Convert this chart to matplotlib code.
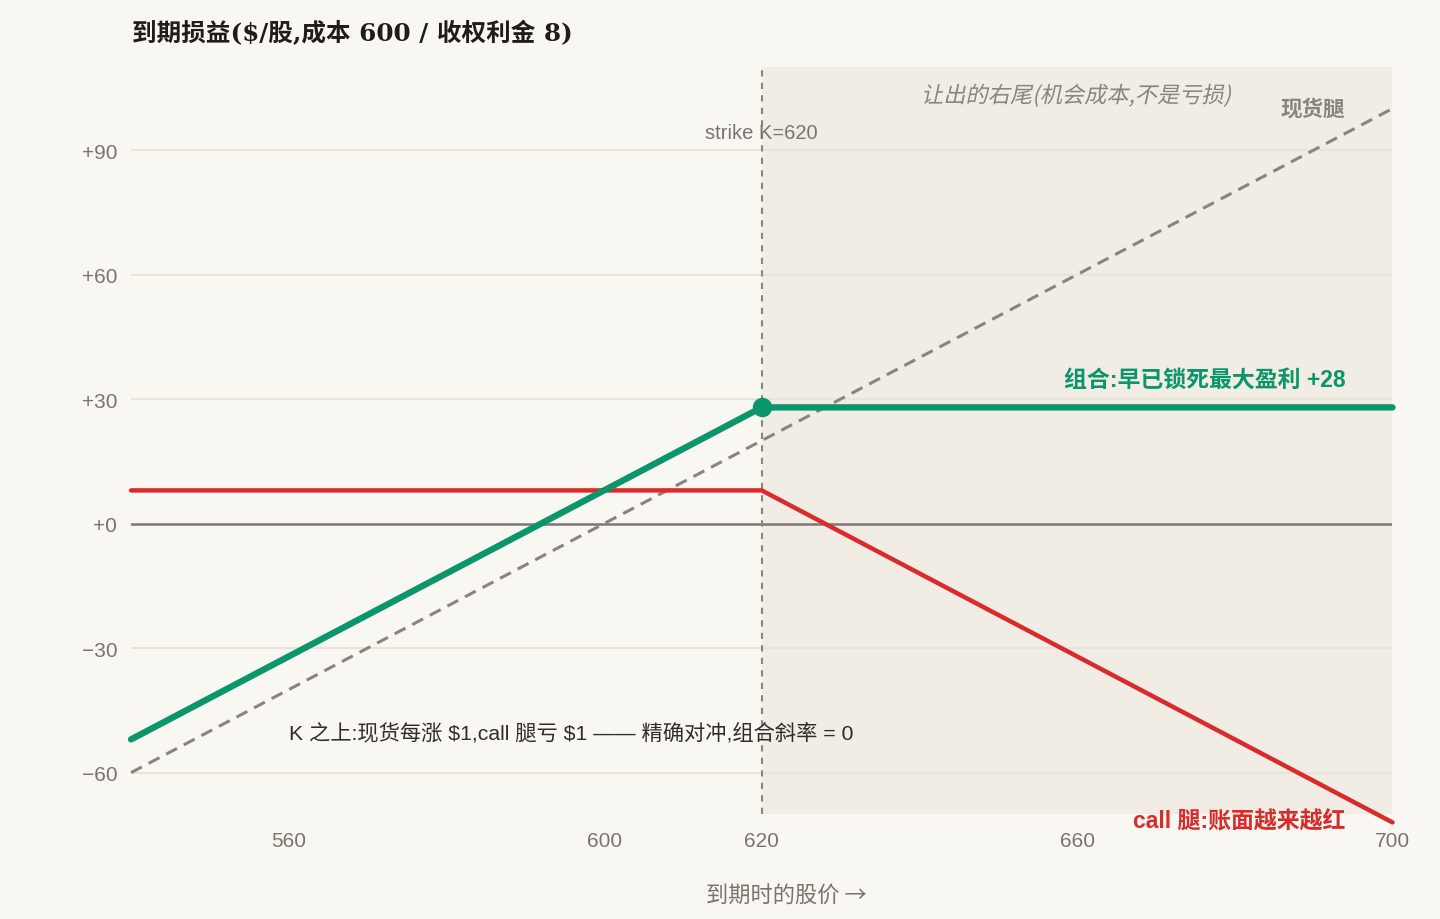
import matplotlib
matplotlib.use("Agg")
import matplotlib.pyplot as plt
from matplotlib.font_manager import FontProperties
from matplotlib.patches import PathPatch
from matplotlib.textpath import TextPath
from matplotlib.transforms import Affine2D, ScaledTranslation

# payoff at expiry, cost 600, strike 620, premium 8
prices = [540, 620, 700]
stock_pnl = [-60, 20, 100]
call_pnl = [8, 8, -72]
combo_pnl = [-52, 28, 28]
strike = 620
max_profit = 28

x_ticks = [560, 600, 620, 660, 700]
y_ticks = [-60, -30, 0, 30, 60, 90]
y_labels = ["\u221260", "\u221230", "+0", "+30", "+60", "+90"]

BG = "#f9f7f2"
SHADE = "#f1ece4"
GRID = "#e9e4d8"
GREEN = "#0a956a"
RED = "#da2a2a"
GRAY = "#8a847e"
TXT = "#7a746e"

MIX = ["Liberation Sans", "Noto Sans CJK SC", "DejaVu Sans"]
plt.rcParams["font.family"] = MIX

fig = plt.figure(figsize=(14.4, 9.2), dpi=100, facecolor=BG)
ax = fig.add_axes([0.091, 0.114, 0.876, 0.812])
ax.set_facecolor(BG)
ax.set_xlim(540, 700)
ax.set_ylim(-70, 110)

ax.axvspan(strike, 700, color=SHADE, zorder=0, lw=0)
for y in y_ticks:
    if y != 0:
        ax.axhline(y, color=GRID, lw=1.5, zorder=1)
ax.axhline(0, color="#7d7873", lw=1.8, zorder=2)
ax.axvline(strike, color=GRAY, lw=1.5, ls=(0, (3, 3)), zorder=2)

ax.plot(prices, stock_pnl, color=GRAY, lw=2.2, ls=(0, (4, 2.5)), zorder=3, clip_on=False)
ax.plot(prices, call_pnl, color=RED, lw=3.2, zorder=4, clip_on=False, solid_capstyle="round")
ax.plot(prices, combo_pnl, color=GREEN, lw=4.6, zorder=5, clip_on=False, solid_capstyle="round")
ax.plot([strike], [max_profit], "o", color=GREEN, ms=13, zorder=6)

ax.set_xticks(x_ticks)
ax.set_xticklabels([str(v) for v in x_ticks])
ax.set_yticks(y_ticks)
ax.set_yticklabels(y_labels)
ax.tick_params(length=0, labelsize=15, colors=TXT, pad=10)
ax.tick_params(axis="x", pad=12)
for s in ax.spines.values():
    s.set_visible(False)

fig.text(786 / 1440, 1 - 896 / 920, "到期时的股价 \u2192", ha="center", va="center",
         fontsize=16, color=TXT, family=["Noto Sans CJK SC", "DejaVu Sans"])

ax.text(620, 94.3, "strike K=620", ha="center", va="center", fontsize=14.5, color=TXT)

# CJK font has no italic face, so shear the glyph outlines by hand
tail = "让出的右尾(机会成本,不是亏损)"
tp = TextPath((0, 0), tail, size=16, prop=FontProperties(family="Noto Sans CJK SC"))
ext = tp.get_extents()
shift = Affine2D().translate(-(ext.x0 + ext.x1) / 2, -(ext.y0 + ext.y1) / 2)
tr = (shift + Affine2D().skew_deg(12, 0).scale(fig.dpi / 72)
      + ScaledTranslation(660, 103.2, ax.transData))
ax.add_patch(PathPatch(tp, transform=tr, color=GRAY, lw=0, zorder=3, clip_on=False))

ax.text(694, 99.9, "现货腿", ha="right", va="center", fontsize=15.5, color=GRAY,
        fontweight="bold")
ax.text(694, 34.9, "组合:早已锁死最大盈利 +28", ha="right", va="center", fontsize=16.5,
        color=GREEN, fontweight="bold")
ax.text(560, -50.3, "K 之上:现货每涨 \\$1,call 腿亏 \\$1 —— 精确对冲,组合斜率 = 0",
        ha="left", va="center", fontsize=15.3, color="#2f2c29")
ax.text(694, -71.7, "call 腿:账面越来越红", ha="right", va="center", fontsize=16.5,
        color=RED, fontweight="bold")

fig.text(0.092, 0.963, "到期损益(\\$/股,成本 600 / 收权利金 8)", ha="left", va="center",
         fontsize=17.7, color="#1f1c1a", fontweight="bold",
         family=["DejaVu Serif", "Noto Sans CJK SC"])

fig.savefig("out.png", dpi=100, facecolor=BG)
